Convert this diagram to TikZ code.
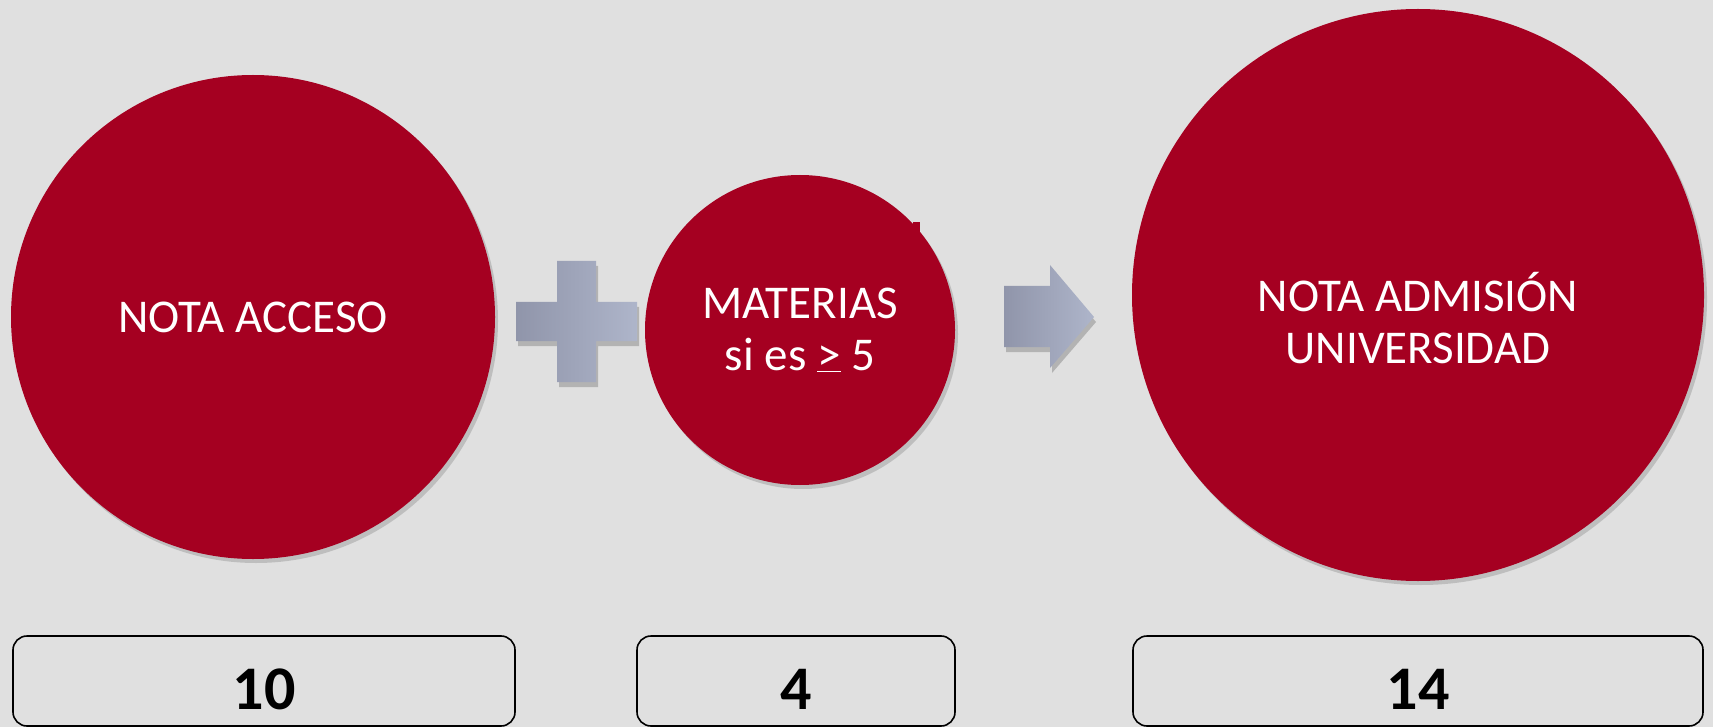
\documentclass[tikz,border=0pt]{standalone}
\usepackage{fontspec}
\setmainfont{Carlito}
\usetikzlibrary{shadows}

\definecolor{notared}{HTML}{A50021}
\definecolor{paper}{HTML}{E0E0E0}
\definecolor{signdark}{HTML}{9095AA}
\definecolor{signlight}{HTML}{AEB5CA}

\tikzset{
  bubble/.style={circle, fill=notared, text=white, inner sep=0pt, align=center,
    font=\fontsize{47}{52}\selectfont,
    drop shadow={shadow xshift=3pt, shadow yshift=-4pt, opacity=0.15, fill=black}},
  valbox/.style={draw=black, line width=1.6pt, rounded corners=14pt, inner sep=0pt,
    minimum height=90pt},
  valnum/.style={inner sep=0pt, font=\fontsize{62}{64}\selectfont\bfseries},
  sign/.style={left color=signdark, right color=signlight,
    drop shadow={shadow xshift=2pt, shadow yshift=-5pt, opacity=0.2, fill=black}}
}

\begin{document}
\begin{tikzpicture}[x=1pt, y=-1pt]
  \fill[paper] (0,0) rectangle (1713,727);
  \useasboundingbox (0,0) rectangle (1713,727);

  % circles
  \node[bubble, minimum size=484pt] (Acceso) at (253,317) {NOTA ACCESO};
  \node[bubble, minimum size=310pt] (Materias) at (800,330)
    {MATERIAS\\si es \underline{>} 5};
  \node[bubble, minimum size=572pt, text height=136pt, text depth=0pt] (Admision)
    at (1418,295) {NOTA ADMISIÓN\\UNIVERSIDAD};
  \fill[notared] (913,222) rectangle (920,232);

  % plus sign and arrow
  \path[sign] (557,261) -- (596,261) -- (596,302) -- (637,302) -- (637,341)
    -- (596,341) -- (596,382) -- (557,382) -- (557,341) -- (516,341)
    -- (516,302) -- (557,302) -- cycle;
  \path[sign] (1004,286) -- (1050,286) -- (1050,265) -- (1094,317)
    -- (1050,368) -- (1050,347) -- (1004,347) -- cycle;

  % values
  \node[valbox, minimum width=502pt] (BoxA) at (264,681) {};
  \node[valbox, minimum width=318pt] (BoxB) at (796,681) {};
  \node[valbox, minimum width=570pt] (BoxC) at (1418,681) {};
  \node[valnum] (NumA) at (BoxA.center) [yshift=-8pt] {10};
  \node[valnum] (NumB) at (BoxB.center) [yshift=-8pt] {4};
  \node[valnum] (NumC) at (BoxC.center) [yshift=-8pt] {14};
\end{tikzpicture}
\end{document}
